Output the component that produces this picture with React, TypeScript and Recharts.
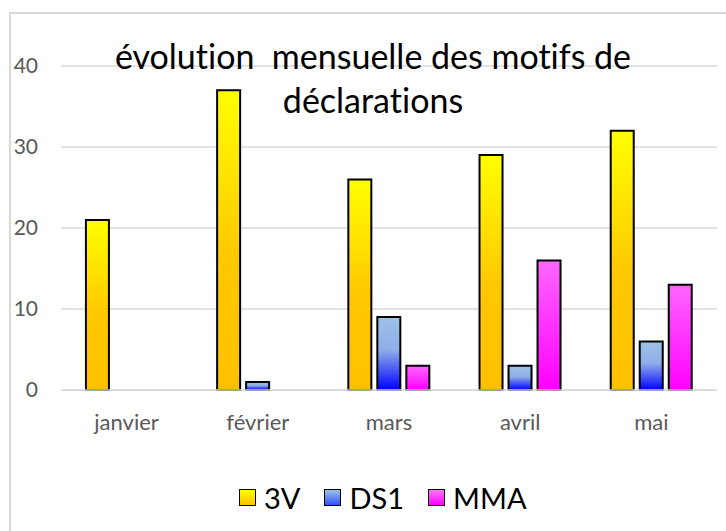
import React from "react";
import { BarChart, Bar, XAxis, YAxis, CartesianGrid } from "recharts";

const months = ["janvier", "février", "mars", "avril", "mai"];
const v3V = [21, 37, 26, 29, 32];
const vDS1 = [0, 1, 9, 3, 6];
const vMMA = [0, 0, 3, 16, 13];
const yTicks = [0, 10, 20, 30, 40];
const seriesNames = ["3V", "DS1", "MMA"];
const titleLines = ["évolution  mensuelle des motifs de", "déclarations"];

const data = months.map((m, i) => ({ month: m, "3V": v3V[i], DS1: vDS1[i], MMA: vMMA[i] }));

const FONT = "Lato, 'DejaVu Sans', sans-serif";
const swatch: Record<string, string> = {
  "3V": "linear-gradient(#FFFF00, #FFC000)",
  DS1: "linear-gradient(#9DC3E6, #3050FF)",
  MMA: "linear-gradient(#FF77FF, #FF00FF)",
};

export default function App() {
  return (
    <div style={{ position: "absolute", left: 0, top: 0, width: 726, height: 531, background: "#fff", overflow: "hidden", fontVariantLigatures: "none" }}>
      <div style={{ position: "absolute", left: 9, top: 12, width: 730, height: 530, borderLeft: "2px solid #d9d9d9", borderTop: "2px solid #d9d9d9" }} />
      <div style={{ position: "absolute", left: 0, top: 0 }}>
        <BarChart
          width={726}
          height={531}
          data={data}
          margin={{ top: 66, right: 9, left: 0, bottom: 0 }}
          barCategoryGap="19%"
          barGap={6}
        >
          <defs>
            <linearGradient id="g3v" x1="0" y1="0" x2="0" y2="1">
              <stop offset="0%" stopColor="#FFFF00" />
              <stop offset="55%" stopColor="#FFC800" />
              <stop offset="100%" stopColor="#FFC000" />
            </linearGradient>
            <linearGradient id="gds1" x1="0" y1="0" x2="0" y2="1">
              <stop offset="0%" stopColor="#9DC3E6" />
              <stop offset="45%" stopColor="#8EAEE8" />
              <stop offset="100%" stopColor="#0000FF" />
            </linearGradient>
            <linearGradient id="gmma" x1="0" y1="0" x2="0" y2="1">
              <stop offset="0%" stopColor="#FF66FF" />
              <stop offset="100%" stopColor="#FF00FF" />
            </linearGradient>
          </defs>
          <CartesianGrid vertical={false} stroke="#d9d9d9" strokeWidth={1.5} />
          <XAxis
            dataKey="month"
            height={141}
            axisLine={{ stroke: "#d9d9d9", strokeWidth: 1.5 }}
            tickLine={false}
            tickSize={0}
            tickMargin={24}
            tick={{ fill: "#595959", fontSize: 22, fontFamily: FONT }}
          />
          <YAxis
            width={61}
            domain={[0, 40]}
            ticks={yTicks}
            axisLine={false}
            tickLine={false}
            tickSize={0}
            tickMargin={23}
            tick={{ fill: "#595959", fontSize: 21, fontFamily: FONT }}
          />
          <Bar dataKey="3V" fill="url(#g3v)" stroke="#000" strokeWidth={2} isAnimationActive={false} />
          <Bar dataKey="DS1" fill="url(#gds1)" stroke="#000" strokeWidth={2} isAnimationActive={false} />
          <Bar dataKey="MMA" fill="url(#gmma)" stroke="#000" strokeWidth={2} isAnimationActive={false} />
        </BarChart>
      </div>
      <svg width={726} height={531} style={{ position: "absolute", left: 0, top: 0, pointerEvents: "none" }}>
        <text x={373} y={69} textAnchor="middle" fontFamily={FONT} fontSize={34} fill="#000" style={{ whiteSpace: "pre", fontVariantLigatures: "none" }}>{titleLines[0]}</text>
        <text x={373} y={113} textAnchor="middle" fontFamily={FONT} fontSize={34} fill="#000" style={{ whiteSpace: "pre", fontVariantLigatures: "none" }}>{titleLines[1]}</text>
      </svg>
      <div style={{ position: "absolute", left: 239, top: 480, height: 34, display: "flex", alignItems: "center", fontFamily: FONT, fontSize: 29, color: "#000" }}>
        {seriesNames.map((n) => (
          <div key={n} style={{ display: "flex", alignItems: "center", marginRight: 24 }}>
            <span style={{ width: 15, height: 15, border: "1.5px solid #000", background: swatch[n], marginRight: 8, display: "inline-block" }} />
            <span>{n}</span>
          </div>
        ))}
      </div>
    </div>
  );
}
